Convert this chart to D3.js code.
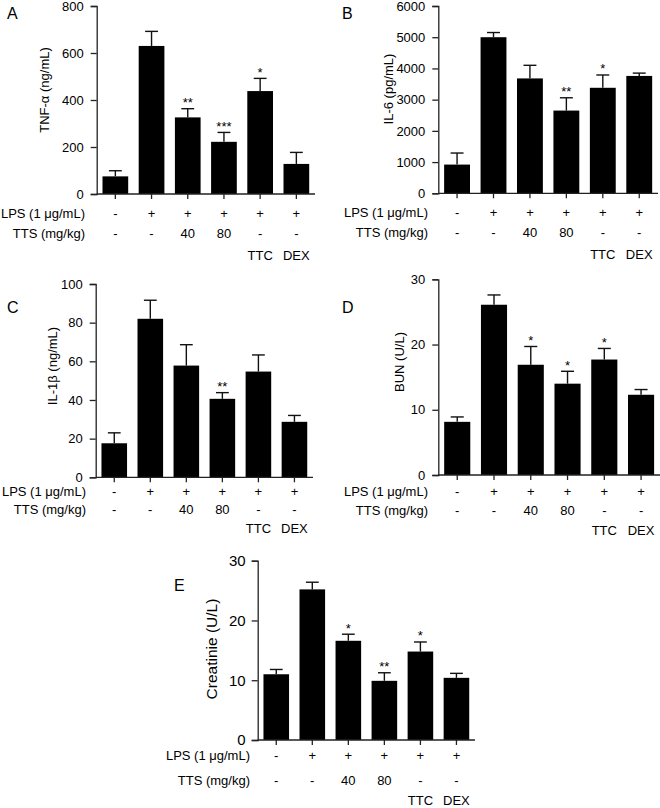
<!DOCTYPE html>
<html><head><meta charset="utf-8">
<script src="https://cdn.jsdelivr.net/npm/d3@7"></script>
<style>body{margin:0;background:#fff}svg{display:block;font-family:"Liberation Sans",Arial,sans-serif}</style>
</head><body><svg id="c" width="660" height="808"></svg>
<script>
// ---- data ----
const groups = ["Control","LPS","TTS40","TTS80","TTC","DEX"];
const lpsLabels = ["-","+","+","+","+","+"];
const ttsLabels = ["-","-","40","80","-","-"];
const drugLabels = ["","","","","TTC","DEX"];

const tnfMean = [75, 630, 326, 222, 438, 128];
const tnfSem  = [24, 62, 37, 40, 54, 49];
const tnfSig  = ["","","**","***","*",""];
const tnfTicks = [0,200,400,600,800];

const il6Mean = [920, 5000, 3680, 2650, 3380, 3760];
const il6Sem  = [370, 150, 420, 410, 410, 90];
const il6Sig  = ["","","","**","*",""];
const il6Ticks = [0,1000,2000,3000,4000,5000,6000];

const il1bMean = [17.6, 82.0, 57.8, 40.6, 54.7, 28.7];
const il1bSem  = [5.4, 9.6, 10.8, 3.2, 8.6, 3.3];
const il1bSig  = ["","","","**","",""];
const il1bTicks = [0,20,40,60,80,100];

const bunMean = [8.15, 26.1, 16.9, 14.0, 17.7, 12.3];
const bunSem  = [0.75, 1.5, 2.8, 1.9, 1.7, 0.8];
const bunSig  = ["","","*","*","*",""];
const bunTicks = [0,10,20,30];

const creMean = [11.0, 25.2, 16.6, 9.9, 14.8, 10.4];
const creSem  = [0.8, 1.2, 1.1, 1.35, 1.6, 0.75];
const creSig  = ["","","*","**","*",""];
const creTicks = [0,10,20,30];

const svg = d3.select("#c");

function panel(o){
  const g = svg.append("g");
  const x = d3.scaleBand().domain(groups).range([o.x0, o.x1]).paddingInner(0.29).paddingOuter(0.16);
  const y = d3.scaleLinear().domain([0, o.ticks[o.ticks.length-1]]).range([o.yb, o.yt]);
  const data = groups.map((k,i)=>({k, m:o.mean[i], s:o.sem[i], sig:o.sig[i]}));

  // bars
  g.selectAll("rect.bar").data(data).join("rect")
    .attr("x", d=>x(d.k)).attr("width", x.bandwidth())
    .attr("y", d=>y(d.m)).attr("height", d=>y(0)-y(d.m)).attr("fill","#000");
  // error bars (upper only)
  const cap = x.bandwidth()*0.25;
  g.selectAll("line.ev").data(data).join("line")
    .attr("x1", d=>x(d.k)+x.bandwidth()/2).attr("x2", d=>x(d.k)+x.bandwidth()/2)
    .attr("y1", d=>y(d.m)).attr("y2", d=>y(d.m+d.s)).attr("stroke","#111").attr("stroke-width",1.4);
  g.selectAll("line.ec").data(data).join("line")
    .attr("x1", d=>x(d.k)+x.bandwidth()/2-cap).attr("x2", d=>x(d.k)+x.bandwidth()/2+cap)
    .attr("y1", d=>y(d.m+d.s)).attr("y2", d=>y(d.m+d.s)).attr("stroke","#111").attr("stroke-width",1.4);
  // significance
  g.selectAll("text.sig").data(data).join("text")
    .attr("x", d=>x(d.k)+x.bandwidth()/2).attr("y", d=>y(d.m+d.s)-1.5)
    .attr("text-anchor","middle").attr("font-size",13).text(d=>d.sig);

  // y axis
  const ya = g.append("g").attr("transform",`translate(${o.x0},0)`)
    .call(d3.axisLeft(y).tickValues(o.ticks).tickSize(6).tickPadding(o.tp||7).tickFormat(d3.format("d")));
  ya.selectAll("text").attr("font-size",o.tf||13).attr("fill","#000").attr("font-family","Liberation Sans, Arial");
  ya.selectAll("line,path").attr("stroke","#222").attr("stroke-width",1.3);
  // x axis
  const xa = g.append("g").attr("transform",`translate(0,${o.yb})`)
    .call(d3.axisBottom(x).tickSize(5).tickFormat(""));
  xa.select("path").attr("d",`M${o.x0},0H${o.x1}`);
  xa.selectAll("line,path").attr("stroke","#222").attr("stroke-width",1.3);

  // category rows
  const rows = [[lpsLabels,"LPS (1 μg/mL)",o.r[0]],[ttsLabels,"TTS (mg/kg)",o.r[1]],[drugLabels,"",o.r[2]]];
  rows.forEach(([labs,title,dy])=>{
    const yy = o.yb+dy;
    if(title) g.append("text").attr("x",o.lr).attr("y",yy).attr("dy","0.35em")
      .attr("text-anchor","end").attr("font-size",13).text(title);
    g.selectAll(null).data(groups).join("text")
      .attr("x",(k)=>x(k)+x.bandwidth()/2).attr("y",yy).attr("dy","0.35em")
      .attr("text-anchor","middle").attr("font-size",13).text((k,i)=>labs[i]);
  });
  // y title
  g.append("text").attr("transform",`translate(${o.tx},${o.ty}) rotate(-90)`)
    .attr("dy","0.35em").attr("text-anchor","middle").attr("font-size",o.ttf||13).text(o.title);
  // panel letter
  g.append("text").attr("x",o.lx).attr("y",o.ly).attr("font-size",16).text(o.letter);
}

panel({letter:"A", lx:7, ly:19, x0:96.7, x1:315, yt:6, yb:194, ticks:tnfTicks, mean:tnfMean, sem:tnfSem, sig:tnfSig,
  title:"TNF-α (ng/mL)", tx:44, ty:90, r:[19,39,61], lr:85});
panel({letter:"B", lx:342, ly:19, x0:438.3, x1:658, yt:6, yb:193.3, ticks:il6Ticks, mean:il6Mean, sem:il6Sem, sig:il6Sig,
  title:"IL-6 (pg/mL)", tx:388, ty:89, r:[19,39,61], lr:428});
panel({letter:"C", lx:7, ly:313, x0:95.7, x1:313, yt:284, yb:477.3, ticks:il1bTicks, mean:il1bMean, sem:il1bSem, sig:il1bSig,
  title:"IL-1β (ng/mL)", tx:52.5, ty:366, r:[14,32,51], lr:86});
panel({letter:"D", lx:342, ly:313, x0:438.3, x1:660, yt:279.3, yb:475, ticks:bunTicks, mean:bunMean, sem:bunSem, sig:bunSig,
  title:"BUN (U/L)", tx:399, ty:362, r:[16,35,55], lr:428});
panel({letter:"E", lx:174, ly:591, x0:257.7, x1:475, yt:560.7, yb:740, ticks:creTicks, mean:creMean, sem:creSem, sig:creSig,
  title:"Creatinie (U/L)", tx:212, ty:649, r:[15,40.7,60.7], lr:250, tf:15, ttf:15.5, tp:6});
</script></body></html>
